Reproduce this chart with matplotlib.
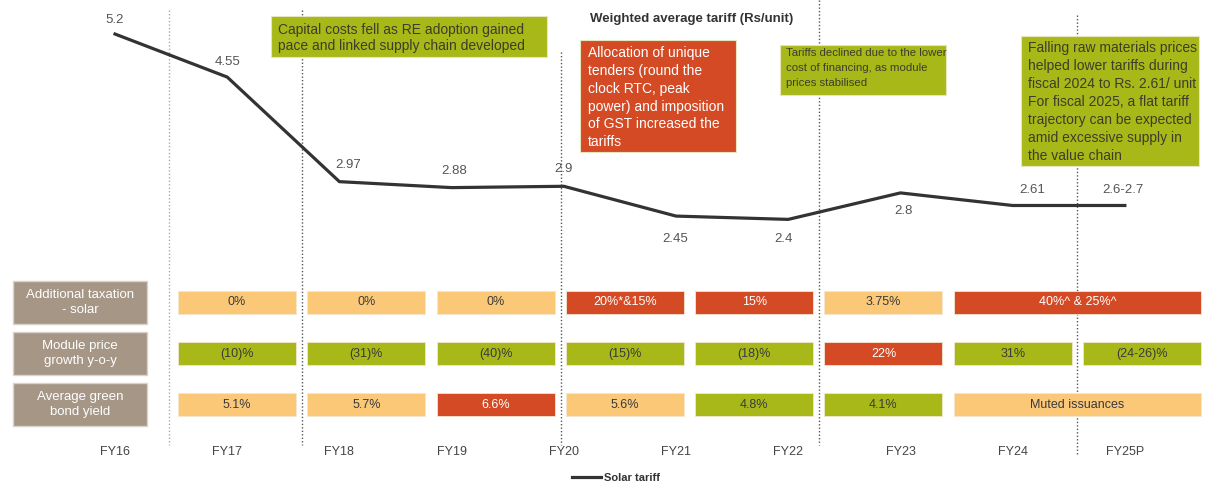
import numpy as np
import matplotlib
matplotlib.use("Agg")
import matplotlib.pyplot as plt
from matplotlib.patches import Rectangle
from matplotlib.transforms import blended_transform_factory

plt.rcParams['font.family'] = ['Liberation Sans', 'DejaVu Sans']

# ---- data ----
years = ["FY16", "FY17", "FY18", "FY19", "FY20", "FY21", "FY22", "FY23", "FY24", "FY25P"]
tariff = [5.2, 4.55, 2.97, 2.88, 2.9, 2.45, 2.4, 2.8, 2.61, 2.61]
tariff_labels = ["5.2", "4.55", "2.97", "2.88", "2.9", "2.45", "2.4", "2.8", "2.61", "2.6-2.7"]

row_names = ["Additional taxation\n- solar", "Module price\ngrowth y-o-y", "Average green\nbond yield"]

tax_text = ["0%", "0%", "0%", "20%*&15%", "15%", "3.75%", "40%^ & 25%^"]
tax_span = [1, 1, 1, 1, 1, 1, 2]
tax_level = ["low", "low", "low", "high", "high", "low", "high"]

module_text = ["(10)%", "(31)%", "(40)%", "(15)%", "(18)%", "22%", "31%", "(24-26)%"]
module_span = [1, 1, 1, 1, 1, 1, 1, 1]
module_level = ["good", "good", "good", "good", "good", "high", "good", "good"]

bond_text = ["5.1%", "5.7%", "6.6%", "5.6%", "4.8%", "4.1%", "Muted issuances"]
bond_span = [1, 1, 1, 1, 1, 1, 2]
bond_level = ["low", "low", "high", "low", "good", "good", "low"]

notes = [
    "Capital costs fell as RE adoption gained\npace and linked supply chain developed",
    "Allocation of unique\ntenders (round the\nclock RTC, peak\npower) and imposition\nof GST increased the\ntariffs",
    "Tariffs declined due to the lower\ncost of financing, as module\nprices stabilised",
    "Falling raw materials prices\nhelped lower tariffs during\nfiscal 2024 to Rs. 2.61/ unit\nFor fiscal 2025, a flat tariff\ntrajectory can be expected\namid excessive supply in\nthe value chain",
]

# ---- style ----
GREEN = '#A8B818'
RED = '#D44A24'
LIGHT = '#FBC878'
BROWN = '#A59686'
fill = {"low": LIGHT, "high": RED, "good": GREEN}
ink = {"low": '#3a3a3a', "high": 'white', "good": '#3a3a3a'}

W, H = 1208, 483
fig = plt.figure(figsize=(W / 100, H / 100), dpi=100)

# line chart axes (full figure, categories spaced ~112 px)
ax = fig.add_axes([0, 0, 1, 1])
ax.set_xlim(-1.025, 9.741)
ax.set_ylim(-1.582, 5.714)
ax.axis('off')
x = np.arange(len(years))
line, = ax.plot(x, tariff, color='#333333', lw=2.3, solid_joinstyle='miter', label='Solar tariff')

offsets = [(0, 14), (0, 15), (9, 17), (3, 17), (0, 17), (-1, -23), (-5, -20), (3, -18), (20, 15), (-2, 15)]
for i, (lab, off) in enumerate(zip(tariff_labels, offsets)):
    ax.annotate(lab, (x[i], tariff[i]), xytext=off, textcoords='offset pixels',
                ha='center', va='center', fontsize=9.5, color='#555555')

fig_tr = blended_transform_factory(ax.transData, fig.transFigure)
for i, yr in enumerate(years):
    ax.text(x[i], 1 - 452 / H, yr, transform=fig_tr, ha='center', va='center',
            fontsize=9, color='#444444')

# period separators
seps = [0.481, 1.667, 3.975, 6.275, 8.574]
tops = [10, 10, 52, 0, 15]
bots = [445, 445, 445, 445, 455]
for k, (s, t, b) in enumerate(zip(seps, tops, bots)):
    ax.plot([s, s], [1 - t / H, 1 - b / H], transform=fig_tr, ls=(0, (1, 1.5)),
            lw=1.0, color='#aaaaaa' if k == 0 else '#555555', zorder=1)

# table axes (columns ~129 px apart, rows 51 px apart)
tb = fig.add_axes([0, 0, 1, 1])
tb.set_xlim(-1.3766, 7.966)
tb.set_ylim(3.539, -5.931)
tb.axis('off')
cellw = 118 / 129.3
for r, (texts, spans, levels) in enumerate([(tax_text, tax_span, tax_level),
                                            (module_text, module_span, module_level),
                                            (bond_text, bond_span, bond_level)]):
    left = np.concatenate([[0], np.cumsum(spans)[:-1]])
    widths = np.array(spans) - 1 + cellw
    tb.barh(r, widths, left=left, height=0.47, color=[fill[l] for l in levels],
            edgecolor='#f3e6cf', lw=0.6)
    for l0, w, t, lv in zip(left, widths, texts, levels):
        tb.text(l0 + w / 2, r, t, ha='center', va='center', fontsize=9, color=ink[lv])

# row headers
tb.barh(np.arange(3), 1.036, left=-1.276, height=0.84, color=BROWN, edgecolor='#d9d2ca', lw=1)
for r, name in enumerate(row_names):
    tb.text(-1.276 + 0.518, r, name, ha='center', va='center', fontsize=9.5,
            color='white', linespacing=1.3)

# overlay in pixel coordinates for notes and title
ov = fig.add_axes([0, 0, 1, 1])
ov.set_xlim(0, W)
ov.set_ylim(H, 0)
ov.axis('off')
boxes = [(271, 16, 547, 57), (580, 40, 736, 152), (780, 45, 946, 95), (1021, 36, 1199, 166)]
box_colors = [GREEN, RED, GREEN, GREEN]
text_colors = ['#3d3d2a', 'white', '#3d3d2a', '#3d3d2a']
sizes = [10, 10, 8.2, 10]
spacings = [1.2, 1.35, 1.6, 1.36]
pads = [(7, 7), (8, 6), (6, 3), (7, 5)]
for (x0, y0, x1, y1), note, bc, tc, fs, ls, (px, py) in zip(boxes, notes, box_colors, text_colors,
                                                          sizes, spacings, pads):
    ov.add_patch(Rectangle((x0, y0), x1 - x0, y1 - y0, facecolor=bc, edgecolor='#e5e5c0', lw=0.8))
    ov.text(x0 + px, y0 + py, note, ha='left', va='top', fontsize=fs, color=tc, linespacing=ls)

ov.text(692, 19, "Weighted average tariff (Rs/unit)", ha='center', va='center',
        fontsize=9.5, fontweight='bold', color='#333333')

fig.legend(handles=[line], loc='center', bbox_to_anchor=(616 / W, 1 - 478 / H),
           frameon=False, handlelength=2.6, handletextpad=0.2,
           prop={'size': 8, 'weight': 'bold'}, labelcolor='#333333')

fig.savefig("out.png", dpi=100)
